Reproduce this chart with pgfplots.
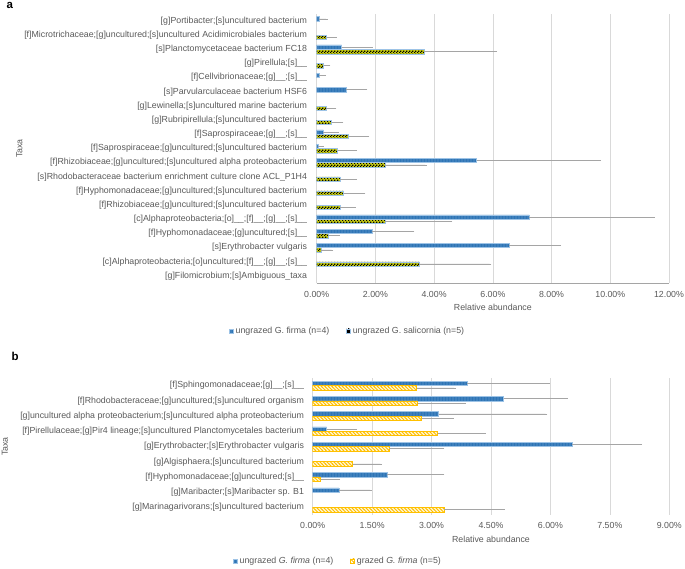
\documentclass[border=0pt]{standalone}
\usepackage{fontspec}
\setmainfont{Liberation Sans}
\usepackage{pgfplots}
\pgfplotsset{compat=1.18}
\usetikzlibrary{patterns}
\definecolor{ublue}{RGB}{46,117,182}
\definecolor{ublueedge}{RGB}{157,195,230}
\definecolor{ulime}{RGB}{200,206,20}
\definecolor{uyellow}{RGB}{255,192,0}
\definecolor{txt}{RGB}{89,89,89}
\definecolor{gridc}{RGB}{217,217,217}
\definecolor{errc}{RGB}{165,165,165}
\definecolor{axisc}{RGB}{165,165,165}

\pgfdeclarepatternformonly{wdots}{\pgfqpoint{-0.5pt}{-0.5pt}}{\pgfqpoint{0.5pt}{0.5pt}}{\pgfqpoint{3pt}{2pt}}{\pgfpathcircle{\pgfqpoint{0pt}{0pt}}{0.4pt}\pgfusepath{fill}}
\pgfdeclarepatternformonly{smallcheck}{\pgfqpoint{0pt}{0pt}}{\pgfqpoint{3pt}{3pt}}{\pgfqpoint{3pt}{3pt}}{\pgfpathrectangle{\pgfqpoint{0pt}{0pt}}{\pgfqpoint{1.5pt}{1.5pt}}\pgfpathrectangle{\pgfqpoint{1.5pt}{1.5pt}}{\pgfqpoint{1.5pt}{1.5pt}}\pgfusepath{fill}}
\pgfdeclarepatternformonly{ystripes}{\pgfqpoint{-0.5pt}{-0.5pt}}{\pgfqpoint{4pt}{4pt}}{\pgfqpoint{3.5pt}{3.5pt}}{\pgfsetlinewidth{0.9pt}\pgfpathmoveto{\pgfqpoint{-0.5pt}{4pt}}\pgfpathlineto{\pgfqpoint{4pt}{-0.5pt}}\pgfusepath{stroke}}

\newcommand{\lblfont}{\fontsize{8.8}{10}\selectfont}
\pgfplotsset{
  common/.style={
    scale only axis, xbar, bar width=4.4pt,
    y dir=reverse,
    axis x line*=bottom, axis y line*=left,
    y axis line style={draw=none},
    major tick length=0pt,
    xmajorgrids, major grid style={gridc, line width=0.6pt},
    ticklabel style={font=\lblfont, text=txt, inner sep=0pt},
    /pgf/number format/assume math mode=true,
    scaled x ticks=false,
    xticklabel={\pgfmathprintnumber[fixed,fixed zerofill,precision=2,assume math mode=true]{\tick}\%},
    yticklabel shift=9.5pt,
    xticklabel shift=8.5pt,
    every axis x label/.style={at={(axis description cs:0.5,0)}, anchor=center, font=\lblfont, text=txt},
    legend style={draw=none, fill=none, inner sep=0pt, font=\lblfont, text=txt,
      legend columns=2, legend cell align=left,
      /tikz/every even column/.append style={column sep=15pt}},
  },
  errstyle/.style={
    error bars/x dir=plus, error bars/x explicit,
    error bars/error bar style={errc, line width=0.6pt},
    error bars/error mark options={errc, mark size=1.7pt, line width=0.6pt}},
  blueBar/.style={draw=ublueedge, line width=0.5pt, fill=ublue, postaction={pattern=wdots, pattern color=white}, errstyle},
  limeBar/.style={draw=ublueedge, line width=0.5pt, fill=ulime, postaction={pattern=smallcheck, pattern color=black}, errstyle},
  yellowBar/.style={draw=uyellow, line width=0.5pt, fill=uyellow!15, postaction={pattern=ystripes, pattern color=uyellow}, errstyle},
}

\begin{document}
\begin{tikzpicture}
\useasboundingbox (0pt,-569pt) rectangle (685pt,0pt);
\node[anchor=base west, inner sep=0pt, font=\bfseries\fontsize{11.5}{13}\selectfont] at (6.5pt,-9pt) {a};
\node[anchor=base west, inner sep=0pt, font=\bfseries\fontsize{11.5}{13}\selectfont] at (11.5pt,-360pt) {b};

% ---------------- panel a ----------------
\begin{axis}[common,
  at={(316.7pt,-283pt)}, anchor=south west,
  width=352.3pt, height=269pt,
  xmin=0, xmax=12, xtick={0,2,...,12},
  ymin=-0.5, ymax=18.5, ytick={0,...,18},
  x axis line style={draw=axisc, line width=0.6pt},
  yticklabels={
    {[g]Portibacter;[s]uncultured bacterium},
    {[f]Microtrichaceae;[g]uncultured;[s]uncultured Acidimicrobiales bacterium},
    {[s]Planctomycetaceae bacterium FC18},
    {[g]Pirellula;[s]\_\_},
    {[f]Cellvibrionaceae;[g]\_\_;[s]\_\_},
    {[s]Parvularculaceae bacterium HSF6},
    {[g]Lewinella;[s]uncultured marine bacterium},
    {[g]Rubripirellula;[s]uncultured bacterium},
    {[f]Saprospiraceae;[g]\_\_;[s]\_\_},
    {[f]Saprospiraceae;[g]uncultured;[s]uncultured bacterium},
    {[f]Rhizobiaceae;[g]uncultured;[s]uncultured alpha proteobacterium},
    {[s]Rhodobacteraceae bacterium enrichment culture clone ACL\_P1H4},
    {[f]Hyphomonadaceae;[g]uncultured;[s]uncultured bacterium},
    {[f]Rhizobiaceae;[g]uncultured;[s]uncultured bacterium},
    {[c]Alphaproteobacteria;[o]\_\_;[f]\_\_;[g]\_\_;[s]\_\_},
    {[f]Hyphomonadaceae;[g]uncultured;[s]\_\_},
    {[s]Erythrobacter vulgaris},
    {[c]Alphaproteobacteria;[o]uncultured;[f]\_\_;[g]\_\_;[s]\_\_},
    {[g]Filomicrobium;[s]Ambiguous\_taxa}},
  xlabel={Relative abundance},
  xlabel style={yshift=-24pt},
  ylabel={Taxa},
  every axis y label/.style={at={(axis description cs:-0.8436,0.5)}, rotate=90, anchor=center, font=\lblfont, text=txt},
  legend style={at={(axis description cs:-0.249,-0.178)}, anchor=west},
]
\addplot[blueBar, bar shift=2.2pt, legend image code/.code={\draw[draw=ublueedge, line width=0.5pt, fill=ublue] (-2pt,-2pt) rectangle (2pt,2pt);}]
  coordinates {
  (0.09,0) +- (0.22,0)
  (0.85,2) +- (1.00,0)
  (0.08,4) +- (0.18,0)
  (0.99,5) +- (0.68,0)
  (0.23,8) +- (0.47,0)
  (0.06,9) +- (0.13,0)
  (5.45,10) +- (4.18,0)
  (7.24,14) +- (4.21,0)
  (1.88,15) +- (1.39,0)
  (6.55,16) +- (1.72,0)
  };
\addlegendentry{ungrazed G. firma (n=4)}
\addplot[limeBar, bar shift=-2.2pt, legend image code/.code={\draw[draw=ublueedge, line width=0.5pt, fill=black] (-2pt,-2pt) rectangle (2pt,2pt);}]
  coordinates {
  (0.34,1) +- (0.28,0)
  (3.66,2) +- (2.43,0)
  (0.24,3) +- (0.17,0)
  (0.32,6) +- (0.29,0)
  (0.51,7) +- (0.34,0)
  (1.09,8) +- (0.65,0)
  (0.71,9) +- (0.61,0)
  (2.33,10) +- (1.36,0)
  (0.80,11) +- (0.52,0)
  (0.92,12) +- (0.68,0)
  (0.80,13) +- (0.48,0)
  (2.33,14) +- (2.23,0)
  (0.40,15) +- (0.32,0)
  (0.14,16) +- (0.37,0)
  (3.50,17) +- (2.39,0)
  };
\addlegendentry{ungrazed G. salicornia (n=5)}
\end{axis}

% ---------------- panel b ----------------
\begin{axis}[common,
  at={(312.7pt,-515pt)}, anchor=south west,
  width=356.6pt, height=137pt,
  xmin=0, xmax=9, xtick={0,1.5,...,9},
  ymin=-0.5, ymax=8.5, ytick={0,...,8},
  x axis line style={draw=none},
  xticklabel shift=7.5pt,
  yticklabels={
    {[f]Sphingomonadaceae;[g]\_\_;[s]\_\_},
    {[f]Rhodobacteraceae;[g]uncultured;[s]uncultured organism},
    {[g]uncultured alpha proteobacterium;[s]uncultured alpha proteobacterium},
    {[f]Pirellulaceae;[g]Pir4 lineage;[s]uncultured Planctomycetales bacterium},
    {[g]Erythrobacter;[s]Erythrobacter vulgaris},
    {[g]Algisphaera;[s]uncultured bacterium},
    {[f]Hyphomonadaceae;[g]uncultured;[s]\_\_},
    {[g]Maribacter;[s]Maribacter sp. B1},
    {[g]Marinagarivorans;[s]uncultured bacterium}},
  yticklabel shift=8.5pt,
  xlabel={Relative abundance},
  xlabel style={yshift=-24pt},
  ylabel={Taxa},
  every axis y label/.style={at={(axis description cs:-0.863,0.5)}, rotate=90, anchor=center, font=\lblfont, text=txt},
  legend style={at={(axis description cs:-0.2235,-0.335)}, anchor=west},
]
\addplot[blueBar, bar shift=2.2pt, legend image code/.code={\draw[draw=ublueedge, line width=0.5pt, fill=ublue] (-2pt,-2pt) rectangle (2pt,2pt);}]
  coordinates {
  (3.89,0) +- (2.05,0)
  (4.82,1) +- (1.58,0)
  (3.18,2) +- (2.70,0)
  (0.35,3) +- (0.73,0)
  (6.54,4) +- (1.73,0)
  (1.88,6) +- (1.40,0)
  (0.66,7) +- (0.79,0)
  };
\addlegendentry{ungrazed \textit{G. firma} (n=4)}
\addplot[yellowBar, bar shift=-2.2pt, legend image code/.code={\draw[draw=uyellow, line width=0.6pt, fill=white] (-2pt,-2pt) rectangle (2pt,2pt);}]
  coordinates {
  (2.62,0) +- (0.95,0)
  (2.65,1) +- (1.18,0)
  (2.75,2) +- (0.77,0)
  (3.15,3) +- (1.18,0)
  (1.93,4) +- (1.35,0)
  (1.01,5) +- (0.70,0)
  (0.20,6) +- (0.45,0)
  (3.31,8) +- (1.49,0)
  };
\addlegendentry{grazed \textit{G. firma} (n=5)}
\end{axis}
\end{tikzpicture}
\end{document}
